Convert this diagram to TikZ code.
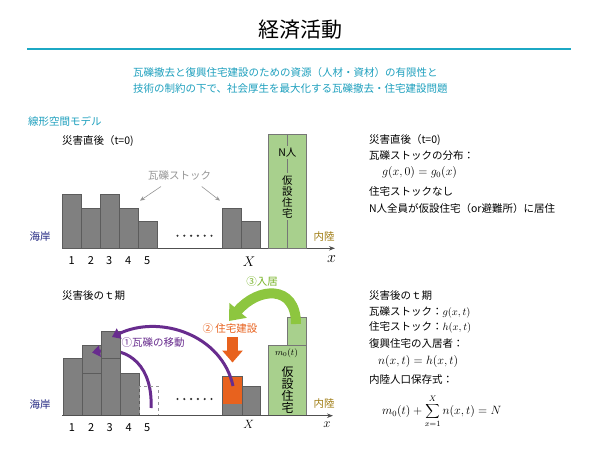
\RequirePackage{fix-cm}
\documentclass[tikz,border=0pt]{standalone}
\usepackage{fontspec}
\setmainfont{Noto Sans CJK JP}
\usetikzlibrary{arrows.meta}
\definecolor{teal1}{RGB}{28,168,196}
\definecolor{tealt}{RGB}{30,160,190}
\definecolor{barfill}{RGB}{128,128,128}
\definecolor{bardraw}{RGB}{92,92,92}
\definecolor{gfill}{RGB}{168,208,141}
\definecolor{gdraw}{RGB}{118,118,118}
\definecolor{purp}{RGB}{104,44,142}
\definecolor{oran}{RGB}{232,98,30}
\definecolor{garrow}{RGB}{141,198,63}
\definecolor{gtext}{RGB}{120,180,40}
\definecolor{navy1}{RGB}{35,40,130}
\definecolor{gold1}{RGB}{160,125,20}
\definecolor{stockgray}{RGB}{150,150,150}
\definecolor{axisc}{RGB}{80,80,80}
\begin{document}
\begin{tikzpicture}[x=1pt,y=-1pt,
  every node/.style={inner sep=0pt,outer sep=0pt},
  jp/.style={font=\fontsize{10.5}{12}\selectfont},
  lt/.style={jp, anchor=west},
  numl/.style={font=\fontsize{11}{12}\selectfont},
  barbox/.style={fill=barfill, draw=bardraw, line width=0.6pt},
  greenbox/.style={fill=gfill, draw=gdraw, line width=0.6pt},
  axisline/.style={axisc, line width=0.9pt, -{Stealth[length=6pt,width=4.5pt]}},
  stockarrow/.style={stockgray, line width=0.6pt, -{Stealth[length=5pt,width=4pt]}},
  purparrow/.style={purp, line width=3pt, -{Triangle[width=11pt,length=8pt]}},
  vtext/.style={fill=gfill, align=center}
]
\useasboundingbox (0,0) rectangle (600,450);
\fill[white] (0,0) rectangle (600,450);

% ---------- header ----------
\node[font=\fontsize{21}{24}\selectfont] (title) at (300,30) {経済活動};
\draw[teal1, line width=2.2pt] (27,49) -- (571,49);
\node[lt, text=tealt] (sub1) at (133,73) {瓦礫撤去と復興住宅建設のための資源（人材・資材）の有限性と};
\node[lt, text=tealt] (sub2) at (133,89) {技術の制約の下で、社会厚生を最大化する瓦礫撤去・住宅建設問題};
\node[lt, text=tealt] (model) at (28,121) {線形空間モデル};

% ---------- top chart ----------
\node[lt] (t0) at (62,141) {災害直後（t=0)};
\coordinate (ax1s) at (62,248.3);
\coordinate (ax1e) at (335,248.3);
\draw[axisline] (ax1s) -- (ax1e);
\draw[barbox] (62.3,194) rectangle (81.7,248.3);
\draw[barbox] (81.7,208) rectangle (100.7,248.3);
\draw[barbox] (100.7,194) rectangle (119.3,248.3);
\draw[barbox] (119.3,208) rectangle (138.7,248.3);
\draw[barbox] (138.7,221.3) rectangle (157.3,248.3);
\draw[barbox] (222.3,208) rectangle (241.7,248.3);
\draw[barbox] (241.7,221.3) rectangle (260.7,248.3);
\draw[greenbox] (268.3,134) rectangle (306.7,248.3);
\draw[gdraw, line width=0.6pt] (287.3,134) -- (287.3,248.3);
\node[jp, fill=gfill, inner ysep=1.5pt] (npeople) at (287.3,152.5) {N人};
\node[vtext, font=\fontsize{10.5}{11}\selectfont, inner ysep=2pt] (kasetsu1) at (287.3,196.5) {仮\\設\\住\\宅};
\foreach \i in {0,...,5} \fill[black!80] (177.5+\i*6.8,235.7) circle (1.2);
\node[numl] (n1a) at (71.7,260.7) {1};
\node[numl] (n2a) at (91,260.7) {2};
\node[numl] (n3a) at (109.3,260.7) {3};
\node[numl] (n4a) at (128.3,260.7) {4};
\node[numl] (n5a) at (147.3,260.7) {5};
\node[font=\fontsize{14}{14}\selectfont] (Xa) at (249,261.5) {$X$};
\node[font=\fontsize{16}{16}\selectfont] (xa) at (331.5,259.5) {$x$};
\node[jp, text=navy1] (coast1) at (40,236.7) {海岸};
\node[jp, text=gold1] (inland1) at (324,236.7) {内陸};
\node[jp, text=stockgray] (stock) at (179.5,175) {瓦礫ストック};
\coordinate (s1a) at (161,186.5);
\coordinate (s1b) at (140,200.7);
\coordinate (s2a) at (201.7,186.5);
\coordinate (s2b) at (220,200.7);
\draw[stockarrow] (s1a) -- (s1b);
\draw[stockarrow] (s2a) -- (s2b);

% ---------- top right text ----------
\node[lt] (r1) at (369,140) {災害直後（t=0)};
\node[lt] (r2) at (369,155.5) {瓦礫ストックの分布：};
\node[anchor=west, font=\fontsize{12}{14}\selectfont] (r3) at (382,172.7) {$g(x,0)=g_0(x)$};
\node[lt] (r4) at (369,191.7) {住宅ストックなし};
\node[lt] (r5) at (369,208.3) {N人全員が仮設住宅（or避難所）に居住};

% ---------- bottom chart ----------
\node[lt] (tt) at (62,295.7) {災害後のｔ期};
\coordinate (ax2s) at (62,415.7);
\coordinate (ax2e) at (333,415.7);
\draw[barbox] (63.3,358.7) rectangle (82.3,415.7);
\draw[barbox] (82.3,373.7) rectangle (101.7,415.7);
\draw[barbox] (82.3,345.3) rectangle (101.7,373.7);
% arc A (behind bar 3): rubble from bar 5 to bar 2
\coordinate (a5) at (151,408);
\coordinate (a2) at (92,352.5);
\draw[purparrow] (a5) .. controls (153,368) and (130,346) .. (a2);
\draw[barbox] (101.7,358.7) rectangle (120.7,415.7);
\draw[barbox] (101.7,331) rectangle (120.7,358.7);
\draw[barbox] (120.7,373.7) rectangle (139.3,415.7);
\draw[stockgray, dashed, line width=0.6pt] (139.3,386.3) rectangle (158.7,415.7);
\draw[barbox] (222.7,376.7) rectangle (242,415.7);
\fill[oran] (223,377) rectangle (241.7,404);
\draw[bardraw, line width=0.6pt] (222.7,376.7) rectangle (242,415.7);
\draw[barbox] (242,386.3) rectangle (260.7,415.7);
\draw[greenbox] (268.3,345.3) rectangle (306.7,415.3);
\draw[greenbox] (287.3,317.3) rectangle (306.7,345.3);
\draw[axisline] (ax2s) -- (ax2e);
\node[font=\fontsize{9}{10}\selectfont] (m0) at (286.5,353.5) {$m_0(t)$};
\node[vtext, font=\fontsize{12}{12}\selectfont] (kasetsu2) at (287.5,390) {仮\\設\\住\\宅};
\foreach \i in {0,...,5} \fill[black!80] (177.5+\i*6.8,399) circle (1.2);
\node[numl] (n1b) at (72,427.3) {1};
\node[numl] (n2b) at (91.3,427.3) {2};
\node[numl] (n3b) at (109.7,427.3) {3};
\node[numl] (n4b) at (128.7,427.3) {4};
\node[numl] (n5b) at (147.3,427.3) {5};
\node[font=\fontsize{12}{12}\selectfont] (Xb) at (248.7,424.5) {$X$};
\node[font=\fontsize{13}{13}\selectfont] (xb) at (327,424.5) {$x$};
\node[jp, text=navy1] (coast2) at (40,404) {海岸};
\node[jp, text=gold1] (inland2) at (324,404) {内陸};

% arc B : rubble from X-1 to bar 3
\coordinate (aX) at (233,386);
\coordinate (a3) at (112,337);
\draw[purparrow] (aX) .. controls (222,335) and (160,314) .. (a3);
\node[jp, text=purp] (move) at (153,343) {①瓦礫の移動};

% orange build arrow
\node[jp, text=oran] (build) at (230,328.3) {② 住宅建設};
\coordinate (ob1) at (232.5,337);
\coordinate (ob2) at (232.5,362.5);
\draw[oran, line width=11pt, -{Triangle[width=20pt,length=12pt]}] (ob1) -- (ob2);

% green move-in arrow
\coordinate (g1) at (296,324);
\coordinate (g2) at (229,321);
\draw[garrow, line width=10pt, -{Triangle[width=22pt,length=14pt]}] (g1) .. controls (296,284) and (258,287) .. (g2);
\node[jp, text=gtext] (movein) at (262,282) {③入居};

% ---------- bottom right text ----------
\node[lt] (q1) at (369,295.7) {災害後のｔ期};
\node[lt] (q2) at (369,312.3) {瓦礫ストック：$g(x,t)$};
\node[lt] (q3) at (369,327.7) {住宅ストック：$h(x,t)$};
\node[lt] (q4) at (369,343.3) {復興住宅の入居者：};
\node[anchor=west, font=\fontsize{12}{14}\selectfont] (q5) at (378,361) {$n(x,t)=h(x,t)$};
\node[lt] (q6) at (369,379.5) {内陸人口保存式：};
\node[anchor=west, font=\fontsize{12}{14}\selectfont] (q7) at (382,411) {$\displaystyle m_0(t)+\sum_{x=1}^{X} n(x,t)=N$};
\end{tikzpicture}
\end{document}
